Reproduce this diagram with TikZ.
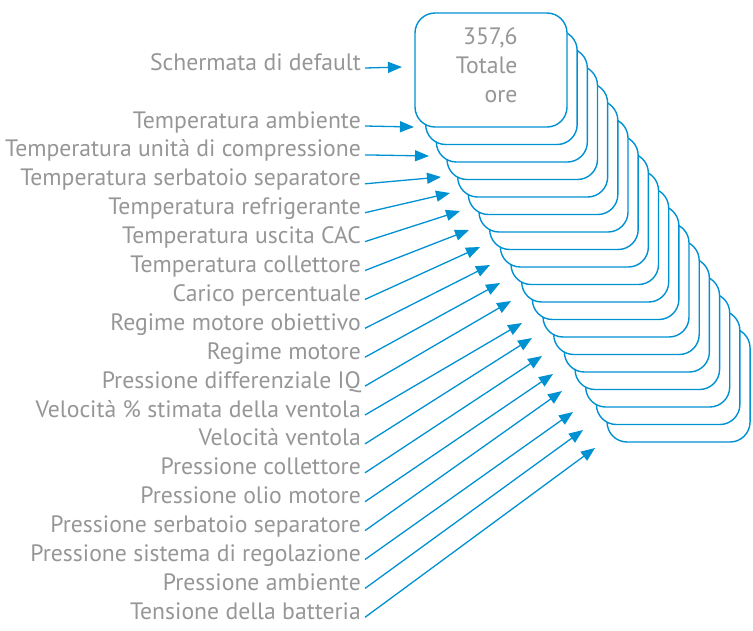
\documentclass[tikz,border=0pt]{standalone}
\usepackage{fontspec}
\setmainfont{PT Sans}
\usetikzlibrary{arrows.meta}
\definecolor{screengray}{RGB}{150,150,150}
\definecolor{screenblue}{RGB}{0,145,210}
\tikzset{
  screenlabel/.style={text=screengray,font=\fontsize{23.7}{29}\selectfont,inner sep=0pt,anchor=base east},
  screenbox/.style={draw=screenblue,line width=1.4pt,fill=white,rounded corners=20pt,minimum height=114pt,inner sep=0pt},
  screenarrow/.style={draw=screenblue,line width=1.3pt,-{Triangle[length=14pt,width=11pt]}}
}

\begin{document}
\begin{tikzpicture}[x=1pt,y=-1pt]
\useasboundingbox (0,0) rectangle (753,630);
% schermate, dall'ultima alla prima
\foreach \k in {18,...,0}{
  \pgfmathsetmacro{\bw}{152-0.5*\k}
  \node[screenbox,minimum width=\bw pt] (box\k) at (491+10.42*\k,70+17.5*\k) {};
}
\node[screenlabel,anchor=east,align=right] (ore) at ([xshift=-50pt,yshift=5pt]box0.east) {357,6\\Totale\\ore};
% voci
\node[screenlabel] (lab0) at (361,70) {Schermata di default};
\foreach \t [count=\i] in {Temperatura ambiente,Temperatura unità di compressione,Temperatura serbatoio separatore,Temperatura refrigerante,Temperatura uscita CAC,Temperatura collettore,Carico percentuale,Regime motore obiettivo,Regime motore,Pressione differenziale IQ,Velocità \% stimata della ventola,Velocità ventola,Pressione collettore,Pressione olio motore,Pressione serbatoio separatore,Pressione sistema di regolazione,Pressione ambiente,Tensione della batteria}{
  \node[screenlabel] (lab\i) at (361,128+28.9*\i-28.9) {\t};
}
% frecce
\foreach \x/\y [count=\i from 0] in {402/67,414/127,429/156,441/177,450/193,460/211,469/230,480/247,490/265,500/283,511/301,522/323,532/338,542/356,553/374,562/391,573/412,583/430,595/448}{
  \coordinate (tip\i) at (\x,\y);
  \draw[screenarrow] ([xshift=4pt,yshift=2pt]lab\i.base east) -- (tip\i);
}
\end{tikzpicture}
\end{document}
